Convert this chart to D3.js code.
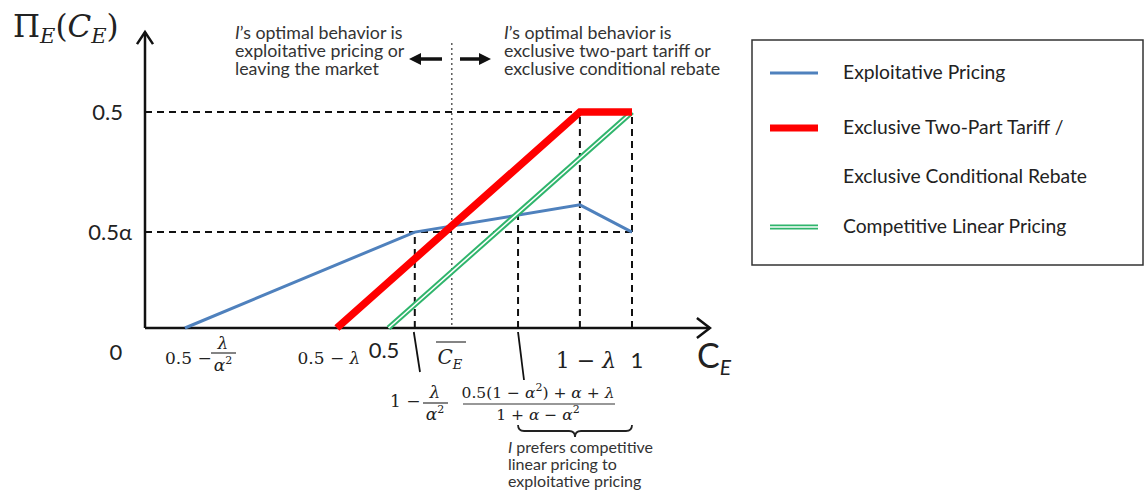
<!DOCTYPE html>
<html>
<head>
<meta charset="utf-8">
<script src="https://cdn.jsdelivr.net/npm/d3@7"></script>
<style>
  body { margin: 0; background: #fff; }
  svg { display: block; }
</style>
</head>
<body>
<div id="chart"></div>
<script>
// C_E values (horizontal) and profits (vertical)
const exploitX = [0.082, 0.554, 0.893, 1.0]
const exploitY = [0, 0.222, 0.285, 0.222]
const tariffX = [0.394, 0.893, 1.0]
const tariffY = [0, 0.5, 0.5]
const linearX = [0.5, 1.0]
const linearY = [0, 0.5]

const yTickValues = [0.5, 0.222]
const yTickLabels = ['0.5', '0.5α']

// vertical guide lines: where they sit and how high they reach
const guideX = [0.554, 0.766, 0.893, 1.0]
const guideTop = [0.222, 0.262, 0.5, 0.5]
const cutoffX = 0.630   // C_E bar

const legendLabels = ['Exploitative Pricing', 'Exclusive Two-Part Tariff /', 'Exclusive Conditional Rebate', 'Competitive Linear Pricing']

const width = 1145
const height = 493
const sans = 'Lato, "Open Sans", sans-serif'
const serif = '"DejaVu Serif", "Liberation Serif", serif'

const svg = d3.select('#chart').append('svg')
    .attr('width', width).attr('height', height)

const x = d3.scaleLinear().domain([0, 1]).range([145, 632])
const y = d3.scaleLinear().domain([0, 0.5]).range([328, 112])

const zip = (xs, ys) => xs.map((v, i) => [v, ys[i]])
const line = d3.line().x(d => x(d[0])).y(d => y(d[1]))

// dashed guides
const guides = svg.append('g').attr('stroke', '#111').attr('stroke-width', 2).attr('stroke-dasharray', '7,5').attr('fill', 'none')
yTickValues.forEach(v => {
    guides.append('path').attr('d', line([[0, v], [1, v]]))
})
guideX.forEach((v, i) => {
    guides.append('path').attr('d', line([[v, 0], [v, guideTop[i]]]))
})

// dotted cutoff line
svg.append('line')
    .attr('x1', x(cutoffX)).attr('x2', x(cutoffX))
    .attr('y1', 43).attr('y2', y(0))
    .attr('stroke', '#444').attr('stroke-width', 1.3).attr('stroke-dasharray', '2,3')

// axes
const axisG = svg.append('g').attr('stroke', '#111').attr('stroke-width', 2.5).attr('fill', 'none')
axisG.append('path').attr('d', line([[0, 0], [1.16, 0]]))
axisG.append('path').attr('d', `M${x(1.16) - 13},${y(0) - 10} L${x(1.16)},${y(0)} L${x(1.16) - 13},${y(0) + 10}`)
axisG.append('path').attr('d', line([[0, 0], [0, 0.685]]))
axisG.append('path').attr('d', `M${x(0) - 8},${y(0.685) + 12} L${x(0)},${y(0.685)} L${x(0) + 8},${y(0.685) + 12}`)

// series
svg.append('path').attr('d', line(zip(exploitX, exploitY)))
    .attr('fill', 'none').attr('stroke', '#4f81bd').attr('stroke-width', 3)
svg.append('path').attr('d', line(zip(linearX, linearY)))
    .attr('fill', 'none').attr('stroke', '#2fb56c').attr('stroke-width', 5.5)
svg.append('path').attr('d', line(zip(linearX, linearY)))
    .attr('fill', 'none').attr('stroke', '#fff').attr('stroke-width', 1.6)
svg.append('path').attr('d', line(zip(tariffX, tariffY)))
    .attr('fill', 'none').attr('stroke', '#ff0000').attr('stroke-width', 7.5)

// y labels
svg.selectAll('.ylab').data(yTickValues).enter().append('text')
    .attr('x', (d, i) => i === 0 ? 123 : 132)
    .attr('y', d => y(d) + 8)
    .attr('text-anchor', 'end')
    .attr('font-family', sans).attr('font-size', 22).attr('fill', '#222')
    .text((d, i) => yTickLabels[i])

// math text helper
function mtext (g, px, py, parts, size, anchor) {
    const t = g.append('text').attr('x', px).attr('y', py)
        .attr('font-family', serif).attr('font-size', size).attr('fill', '#222')
        .attr('text-anchor', anchor || 'start')
    parts.forEach(p => {
        const s = t.append('tspan').text(p.t)
        if (p.i) s.attr('font-style', 'italic')
        if (p.s) s.attr('font-size', p.s)
        if (p.dy) s.attr('dy', p.dy)
    })
    return t
}
function fracBar (g, x1, x2, yy) {
    g.append('line').attr('x1', x1).attr('x2', x2).attr('y1', yy).attr('y2', yy)
        .attr('stroke', '#333').attr('stroke-width', 1.2)
}

const lab = svg.append('g')

// Pi_E(C_E)
mtext(lab, 13, 37, [
    { t: 'Π' }, { t: 'E', i: true, s: 21, dy: 6 }, { t: '(', dy: -6 },
    { t: 'C', i: true }, { t: 'E', i: true, s: 21, dy: 6 }, { t: ')', dy: -6 }
], 31)

// x labels
lab.append('text').attr('x', 116).attr('y', 360).attr('text-anchor', 'middle')
    .attr('font-family', sans).attr('font-size', 22).attr('fill', '#222').text('0')
mtext(lab, 165, 364, [{ t: '0.5 −' }], 17)
mtext(lab, 223, 349, [{ t: 'λ', i: true }], 17, 'middle')
fracBar(lab, 211, 236, 353)
mtext(lab, 223, 371, [{ t: 'α', i: true }, { t: '2', s: 11, dy: -7 }], 17, 'middle')
mtext(lab, x(0.394) - 8, 364, [{ t: '0.5 − ' }, { t: 'λ', i: true }], 17, 'middle')
lab.append('text').attr('x', 384).attr('y', 358).attr('text-anchor', 'middle')
    .attr('font-family', sans).attr('font-size', 22).attr('fill', '#222').text('0.5')
mtext(lab, x(cutoffX) - 2, 364, [{ t: 'C', i: true }, { t: 'E', i: true, s: 13, dy: 5 }], 20, 'middle')
fracBar(lab, 436, 466, 342)
mtext(lab, x(0.893) + 6, 368, [{ t: '1 − ' }, { t: 'λ', i: true }], 22, 'middle')
lab.append('text').attr('x', 637).attr('y', 368).attr('text-anchor', 'middle')
    .attr('font-family', sans).attr('font-size', 22).attr('fill', '#222').text('1')
const ce = lab.append('text').attr('x', 697).attr('y', 368)
    .attr('font-family', sans).attr('font-size', 34).attr('fill', '#222')
ce.append('tspan').text('C')
ce.append('tspan').text('E').attr('font-size', 21).attr('font-style', 'italic').attr('dy', 7)

// pointer lines
lab.append('line').attr('x1', x(0.554) - 1).attr('y1', 332).attr('x2', 420).attr('y2', 372)
    .attr('stroke', '#111').attr('stroke-width', 1.8)
lab.append('line').attr('x1', x(0.766)).attr('y1', 332).attr('x2', 524).attr('y2', 380)
    .attr('stroke', '#111').attr('stroke-width', 1.8)

// 1 - lambda / alpha^2
mtext(lab, 390, 407, [{ t: '1 −' }], 17)
mtext(lab, 435, 398, [{ t: 'λ', i: true }], 17, 'middle')
fracBar(lab, 423, 448, 403)
mtext(lab, 435, 420, [{ t: 'α', i: true }, { t: '2', s: 11, dy: -7 }], 17, 'middle')

// big fraction
mtext(lab, 538, 398, [
    { t: '0.5(1 − ' }, { t: 'α', i: true }, { t: '2', s: 11, dy: -7 }, { t: ') + ', dy: 7 },
    { t: 'α', i: true }, { t: ' + ' }, { t: 'λ', i: true }
], 15.5, 'middle')
fracBar(lab, 463, 615, 404)
mtext(lab, 538, 420, [
    { t: '1 + ' }, { t: 'α', i: true }, { t: ' − ' }, { t: 'α', i: true }, { t: '2', s: 11, dy: -7 }
], 15.5, 'middle')

// brace
const bx1 = x(0.766), bx2 = x(1), bm = (bx1 + bx2) / 2
lab.append('path')
    .attr('d', `M${bx1},425 Q${bx1},431 ${bx1 + 6},431 L${bm - 6},431 Q${bm},431 ${bm},437 Q${bm},431 ${bm + 6},431 L${bx2 - 6},431 Q${bx2},431 ${bx2},425`)
    .attr('fill', 'none').attr('stroke', '#222').attr('stroke-width', 1.8)

// notes
function note (px, lines, size) {
    const t = svg.append('text').attr('x', px)
        .attr('font-family', sans).attr('font-size', size).attr('fill', '#333')
    lines.forEach(l => {
        const s = t.append('tspan').attr('x', px).attr('y', l.y)
        if (l.it) s.append('tspan').attr('font-style', 'italic').text(l.it)
        s.append('tspan').text(l.t)
    })
}
note(235, [
    { y: 39, it: 'I', t: '’s optimal behavior is' },
    { y: 57, t: 'exploitative pricing or' },
    { y: 75, t: 'leaving the market' }
], 17.8)
note(504, [
    { y: 39, it: 'I', t: '’s optimal behavior is' },
    { y: 57, t: 'exclusive two-part tariff or' },
    { y: 75, t: 'exclusive conditional rebate' }
], 17.8)
note(508, [
    { y: 453, it: 'I', t: ' prefers competitive' },
    { y: 470, t: 'linear pricing to' },
    { y: 487, t: 'exploitative pricing' }
], 16)

// arrows
function arrow (x1, x2, yy) {
    const dir = Math.sign(x2 - x1)
    svg.append('line').attr('x1', x1).attr('x2', x2 - dir * 10).attr('y1', yy).attr('y2', yy)
        .attr('stroke', '#111').attr('stroke-width', 3.5)
    svg.append('path').attr('d', `M${x2},${yy} L${x2 - dir * 12},${yy - 6} L${x2 - dir * 12},${yy + 6} Z`)
        .attr('fill', '#111')
}
arrow(442, 409, 59)
arrow(460, 491, 59)

// legend
const lg = svg.append('g')
lg.append('rect').attr('x', 752).attr('y', 40).attr('width', 391).attr('height', 225)
    .attr('fill', '#fff').attr('stroke', '#333').attr('stroke-width', 1.5)
const legY = [73, 128, 177, 227]
lg.append('line').attr('x1', 770).attr('x2', 818).attr('y1', legY[0]).attr('y2', legY[0])
    .attr('stroke', '#4f81bd').attr('stroke-width', 3)
lg.append('line').attr('x1', 770).attr('x2', 818).attr('y1', legY[1]).attr('y2', legY[1])
    .attr('stroke', '#ff0000').attr('stroke-width', 7)
lg.append('line').attr('x1', 770).attr('x2', 818).attr('y1', legY[3]).attr('y2', legY[3])
    .attr('stroke', '#2fb56c').attr('stroke-width', 5)
lg.append('line').attr('x1', 770).attr('x2', 818).attr('y1', legY[3]).attr('y2', legY[3])
    .attr('stroke', '#fff').attr('stroke-width', 1.4)
lg.selectAll('.lt').data(legendLabels).enter().append('text')
    .attr('x', 843).attr('y', (d, i) => legY[i] + 6)
    .attr('font-family', sans).attr('font-size', 19.3).attr('fill', '#222')
    .text(d => d)
</script>
</body>
</html>
